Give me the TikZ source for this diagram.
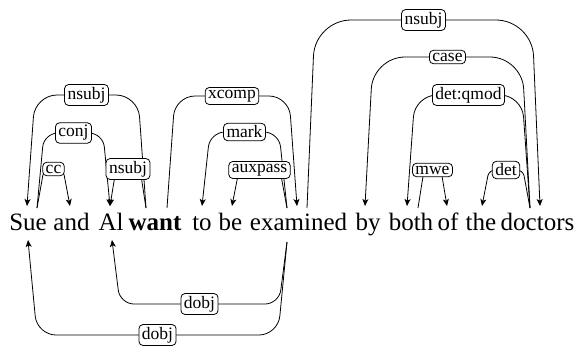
\documentclass[tikz,border=0pt]{standalone}
\usepackage{fontspec}
\setmainfont{Liberation Serif}
\usetikzlibrary{arrows.meta,calc}
\tikzset{
  word/.style={inner sep=0pt, anchor=base, font=\fontsize{25}{30}\selectfont},
  lab/.style={draw, fill=white, rounded corners=4pt, inner xsep=3pt, inner ysep=2.5pt, line width=0.8pt, font=\fontsize{17.5}{20}\selectfont},
  edge/.style={line width=0.8pt, -{Stealth[length=7pt,width=6pt,inset=1.8pt]}},
}
% start, end, level (px from top), slant, radius, label
\newcommand\depedge[6]{%
  \draw[edge, rounded corners=#5pt] let \p1=(#1), \p2=(#2), \n1={ifthenelse(\x1<\x2,#4,-#4)} in
    (\p1) -- ({\x1+\n1*1pt},{-#3pt}) -- node[lab]{#6} ({\x2-\n1*1pt},{-#3pt}) -- (\p2);
}
\begin{document}
\begin{tikzpicture}[x=1pt,y=-1pt]
\useasboundingbox (0,0) rectangle (578,349);
% words
\node[word] (w1) at (28,230) {Sue};
\node[word] (w2) at (71.5,230) {and};
\node[word] (w3) at (111,230) {Al};
\node[word] (w4) at (155,230) {\textbf{want}};
\node[word] (w5) at (202,230) {to};
\node[word] (w6) at (230.5,230) {be};
\node[word] (w7) at (298.5,230) {examined};
\node[word] (w8) at (368,230) {by};
\node[word] (w9) at (411,230) {both};
\node[word] (w10) at (448,230) {of};
\node[word] (w11) at (481,230) {the};
\node[word] (w12) at (537.5,230) {doctors};
% edge anchor points
\coordinate (SueR) at (37,208);
\coordinate (SueT) at (27,206);
\coordinate (SueB) at (28,240);
\coordinate (andT) at (70,206);
\coordinate (AlT) at (110,206);
\coordinate (AlB) at (112,240);
\coordinate (wantL) at (146,208);
\coordinate (wantR) at (167,208);
\coordinate (toT) at (202,206);
\coordinate (beT) at (232,206);
\coordinate (exL) at (287,208);
\coordinate (exT) at (297,206);
\coordinate (exR) at (307,208);
\coordinate (exB) at (287,242);
\coordinate (byT) at (365,206);
\coordinate (bothT) at (407,206);
\coordinate (bothR) at (418,208);
\coordinate (ofT) at (447,206);
\coordinate (theT) at (482,206);
\coordinate (docL) at (530,208);
\coordinate (docT) at (540,206);
% edges
\depedge{wantL}{SueT}{95}{8}{22}{nsubj}
\depedge{SueR}{AlT}{133}{7}{14}{conj}
\depedge{SueR}{andT}{169}{7}{6}{cc}
\depedge{wantL}{AlT}{169}{6}{6}{nsubj}
\depedge{wantR}{exT}{96}{8}{20}{xcomp}
\depedge{exL}{toT}{132}{8}{15}{mark}
\depedge{exL}{beT}{170}{7}{6}{auxpass}
\depedge{exR}{docT}{20}{8}{36}{nsubj}
\depedge{docL}{byT}{57}{8}{32}{case}
\depedge{docL}{bothT}{95}{8}{22}{det:qmod}
\depedge{bothR}{ofT}{170}{6}{6}{mwe}
\depedge{docL}{theT}{170}{7}{6}{det}
\depedge{exB}{AlB}{304}{8}{14}{dobj}
\depedge{exB}{SueB}{335}{9}{19}{dobj}
\end{tikzpicture}
\end{document}
